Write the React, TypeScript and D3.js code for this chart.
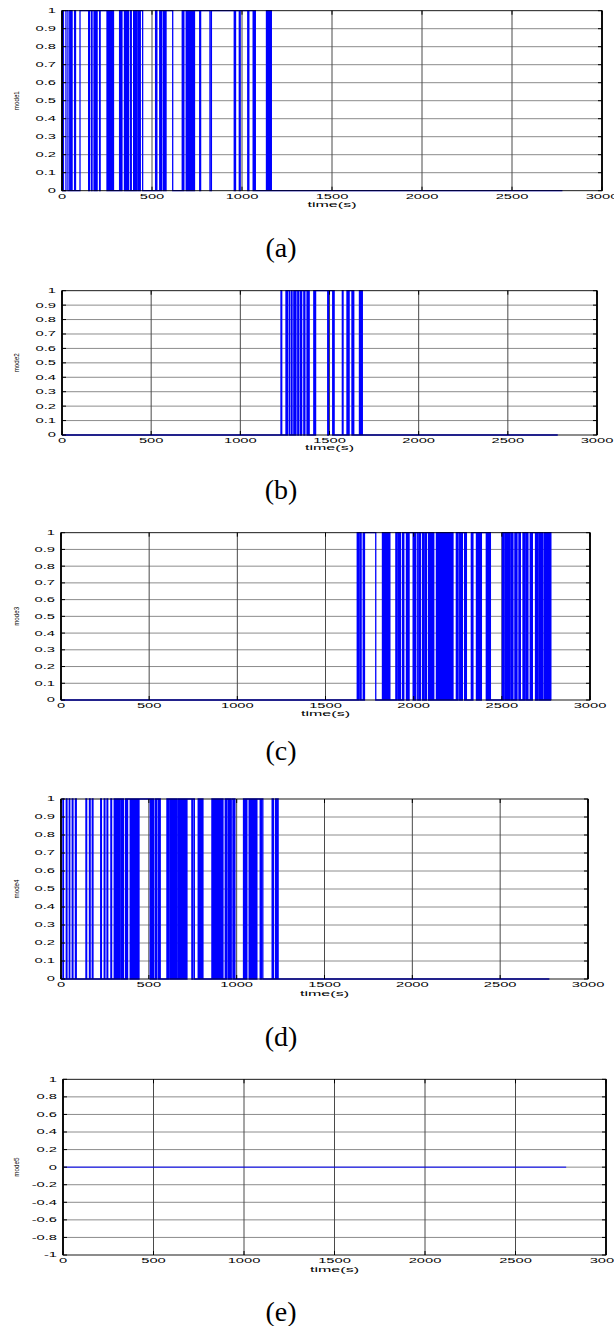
import React from 'react';
import * as d3 from 'd3';

// ---------- data ----------
const X_TICKS = [0, 500, 1000, 1500, 2000, 2500, 3000];
const Y_TICKS_UNIT = [0, 0.1, 0.2, 0.3, 0.4, 0.5, 0.6, 0.7, 0.8, 0.9, 1];
const Y_TICKS_SIGNED = [-1, -0.8, -0.6, -0.4, -0.2, 0, 0.2, 0.4, 0.6, 0.8, 1];
const SERIES_NAMES = ['mode1', 'mode2', 'mode3', 'mode4', 'mode5'];
const CAPTIONS = ['(a)', '(b)', '(c)', '(d)', '(e)'];
const X_TITLE = 'time(s)';
const T_END = 2780;

// switching instants (s): the mode signal toggles 0 <-> 1 at each time, starting at 0
const mode1Switches = [
  2, 8, 22, 33, 43, 47, 51, 56, 70, 75, 100, 148, 152, 163, 167, 178, 184, 190, 195, 209,
  212, 250, 256, 262, 268, 274, 280, 286, 320, 326, 333, 347, 352, 358, 364, 370, 381, 385,
  398, 402, 406, 410, 414, 422, 426, 430, 435, 448, 520, 527, 543, 548, 553, 563, 568, 573,
  578, 615, 668, 673, 677, 690, 695, 700, 705, 710, 715, 720, 725, 730, 736, 765, 770, 822,
  830, 957, 964, 985, 990, 1032, 1038, 1062, 1068, 1074, 1136, 1140, 1144, 1148, 1152, 1156,
  1160, 1163,
];
const mode2Switches = [
  1228, 1232, 1256, 1262, 1266, 1276, 1286, 1290, 1300, 1306, 1312, 1322, 1328, 1338, 1344,
  1356, 1362, 1374, 1380, 1386, 1412, 1416, 1422, 1490, 1494, 1518, 1522, 1526, 1572, 1576,
  1598, 1604, 1610, 1626, 1632, 1636, 1668, 1674, 1680, 1684,
];
const mode3Switches = [
  1680, 1684, 1687, 1695, 1699, 1702, 1714, 1718, 1721, 1785, 1823, 1829, 1835, 1841, 1847,
  1853, 1859, 1865, 1899, 1903, 1906, 1914, 1919, 1925, 1937, 1941, 1944, 1959, 1964, 1969,
  1974, 1997, 2002, 2007, 2012, 2023, 2031, 2035, 2038, 2050, 2054, 2057, 2065, 2069, 2072,
  2084, 2089, 2094, 2099, 2103, 2108, 2114, 2129, 2134, 2139, 2144, 2148, 2153, 2158, 2163,
  2168, 2173, 2178, 2183, 2188, 2193, 2198, 2203, 2208, 2213, 2218, 2223, 2242, 2247, 2252,
  2261, 2266, 2271, 2276, 2289, 2294, 2299, 2327, 2331, 2336, 2356, 2361, 2367, 2374, 2379,
  2384, 2412, 2418, 2424, 2430, 2435, 2503, 2507, 2510, 2518, 2523, 2528, 2533, 2538, 2544,
  2552, 2557, 2563, 2574, 2580, 2586, 2597, 2601, 2605, 2620, 2625, 2631, 2639, 2644, 2648,
  2661, 2667, 2673, 2691, 2696, 2701, 2706, 2714, 2719, 2724, 2729, 2733, 2742, 2748, 2754,
  2760, 2766, 2771, 2775, 2778,
];
const mode4Switches = [
  11, 14, 30, 34, 47, 50, 64, 68, 82, 87, 142, 146, 162, 166, 178, 182, 226, 230, 246, 250,
  262, 266, 284, 288, 303, 308, 312, 318, 324, 330, 337, 345, 350, 356, 368, 373, 379, 394,
  398, 402, 406, 410, 413, 417, 422, 428, 432, 438, 444, 508, 513, 518, 522, 527, 537, 542,
  546, 556, 561, 565, 603, 609, 614, 622, 627, 632, 637, 641, 645, 650, 655, 660, 668, 673,
  679, 684, 689, 694, 699, 704, 709, 713, 717, 745, 750, 759, 781, 786, 793, 797, 802, 808,
  859, 864, 869, 874, 879, 884, 889, 894, 899, 904, 909, 914, 918, 922, 935, 940, 945, 954,
  959, 965, 973, 982, 986, 990, 1039, 1044, 1049, 1054, 1058, 1071, 1076, 1081, 1086, 1091,
  1096, 1101, 1106, 1111, 1115, 1134, 1141, 1149, 1202, 1209, 1221, 1227, 1233, 1236,
];
const mode5Switches: number[] = [];

// ---------- layout ----------
const LAYOUT = [
  { left: 62, right: 602, top: 10.7, bottom: 190.7, captionY: 249, tickDy: 6, titleDy: 14 },
  { left: 62, right: 597, top: 290.7, bottom: 435, captionY: 491, tickDy: 5.5, titleDy: 12.5 },
  { left: 61, right: 590, top: 532.7, bottom: 700, captionY: 752, tickDy: 6, titleDy: 13.5 },
  { left: 61, right: 588, top: 799, bottom: 979, captionY: 1038, tickDy: 6, titleDy: 14 },
  { left: 63, right: 606, top: 1079.3, bottom: 1255, captionY: 1313, tickDy: 6, titleDy: 14 },
];

const PANELS = [
  { name: SERIES_NAMES[0], switches: mode1Switches, yDomain: [0, 1], yTicks: Y_TICKS_UNIT, caption: CAPTIONS[0] },
  { name: SERIES_NAMES[1], switches: mode2Switches, yDomain: [0, 1], yTicks: Y_TICKS_UNIT, caption: CAPTIONS[1] },
  { name: SERIES_NAMES[2], switches: mode3Switches, yDomain: [0, 1], yTicks: Y_TICKS_UNIT, caption: CAPTIONS[2] },
  { name: SERIES_NAMES[3], switches: mode4Switches, yDomain: [0, 1], yTicks: Y_TICKS_UNIT, caption: CAPTIONS[3] },
  { name: SERIES_NAMES[4], switches: mode5Switches, yDomain: [-1, 1], yTicks: Y_TICKS_SIGNED, caption: CAPTIONS[4] },
];

const TICK_FONT = "'Liberation Sans', Arial, sans-serif";
const SX = 2.1;

function Panel({ p, box }: { p: any; box: any }) {
  const x = d3.scaleLinear().domain([0, 3000]).range([box.left, box.right]);
  const y = d3.scaleLinear().domain(p.yDomain).range([box.bottom, box.top]);

  const pts: [number, number][] = [[0, 0]];
  let v = 0;
  p.switches.forEach((t: number) => {
    v = 1 - v;
    pts.push([t, v]);
  });
  pts.push([T_END, v]);
  const line = d3
    .line<[number, number]>()
    .x((d) => x(d[0]))
    .y((d) => y(d[1]))
    .curve(d3.curveStepAfter);

  const yMin = p.yDomain[0];
  const yMax = p.yDomain[1];
  const cx = (box.left + box.right) / 2;
  const cy = (box.top + box.bottom) / 2;

  return (
    <g>
      {/* grid */}
      {p.yTicks
        .filter((t: number) => t !== yMin && t !== yMax)
        .map((t: number) => (
          <line key={'gy' + t} x1={box.left} x2={box.right} y1={y(t)} y2={y(t)} stroke="#8c8c8c" strokeWidth={1} />
        ))}
      {X_TICKS.filter((t) => t !== 0 && t !== 3000).map((t) => (
        <line key={'gx' + t} x1={x(t)} x2={x(t)} y1={box.top} y2={box.bottom} stroke="#4a4a4a" strokeWidth={1} />
      ))}
      {/* data */}
      <path d={line(pts) || ''} fill="none" stroke="#0000ff" strokeWidth={p.switches.length ? 1.3 : 1} />
      {/* axes box */}
      <rect x={box.left} y={box.top} width={box.right - box.left} height={box.bottom - box.top} fill="none" stroke="#000" strokeWidth={0.9} />
      <line x1={box.left} x2={box.left} y1={box.top} y2={box.bottom} stroke="#000" strokeWidth={1.8} />
      <line x1={box.right} x2={box.right} y1={box.top} y2={box.bottom} stroke="#000" strokeWidth={1.8} />
      {/* ticks */}
      {p.yTicks.map((t: number) => (
        <g key={'ty' + t}>
          <line x1={box.left} x2={box.left + 4} y1={y(t)} y2={y(t)} stroke="#000" strokeWidth={1} />
          <line x1={box.right - 4} x2={box.right} y1={y(t)} y2={y(t)} stroke="#000" strokeWidth={1} />
        </g>
      ))}
      {X_TICKS.map((t) => (
        <g key={'tx' + t}>
          <line x1={x(t)} x2={x(t)} y1={box.top} y2={box.top + 4} stroke="#000" strokeWidth={1} />
          <line x1={x(t)} x2={x(t)} y1={box.bottom - 4} y2={box.bottom} stroke="#000" strokeWidth={1} />
        </g>
      ))}
      {/* tick labels */}
      {p.yTicks.map((t: number) => (
        <text
          key={'ly' + t}
          transform={`translate(${box.left - 6},${y(t)}) scale(${SX},1)`}
          textAnchor="end"
          dominantBaseline="central"
          fontFamily={TICK_FONT}
          fontSize={7}
          fill="#000"
        >
          {`${t}`}
        </text>
      ))}
      {X_TICKS.map((t) => (
        <text
          key={'lx' + t}
          transform={`translate(${x(t)},${box.bottom + box.tickDy}) scale(${SX},1)`}
          textAnchor="middle"
          dominantBaseline="central"
          fontFamily={TICK_FONT}
          fontSize={7}
          fill="#000"
        >
          {`${t}`}
        </text>
      ))}
      {/* axis titles */}
      <text
        x={cx}
        y={box.bottom + box.titleDy}
        textAnchor="middle"
        dominantBaseline="central"
        fontFamily={TICK_FONT}
        fontSize={7.5}
        textLength={49}
        lengthAdjust="spacingAndGlyphs"
        fill="#000"
      >
        {X_TITLE}
      </text>
      <text
        transform={`translate(16,${cy}) rotate(-90)`}
        textAnchor="middle"
        dominantBaseline="central"
        fontFamily={TICK_FONT}
        fontSize={8}
        textLength={19}
        lengthAdjust="spacingAndGlyphs"
        fill="#000"
      >
        {p.name}
      </text>
      {/* caption */}
      <text
        x={281}
        y={box.captionY + 8}
        textAnchor="middle"
        fontFamily="'Liberation Serif', 'Times New Roman', serif"
        fontSize={28}
        fill="#000"
      >
        {p.caption}
      </text>
    </g>
  );
}

export default function App() {
  return (
    <svg
      width={614}
      height={1326}
      viewBox="0 0 614 1326"
      style={{ position: 'absolute', left: 0, top: 0, background: '#fff' }}
    >
      <rect x={0} y={0} width={614} height={1326} fill="#fff" />
      {PANELS.map((p, i) => (
        <Panel key={p.name} p={p} box={LAYOUT[i]} />
      ))}
    </svg>
  );
}
